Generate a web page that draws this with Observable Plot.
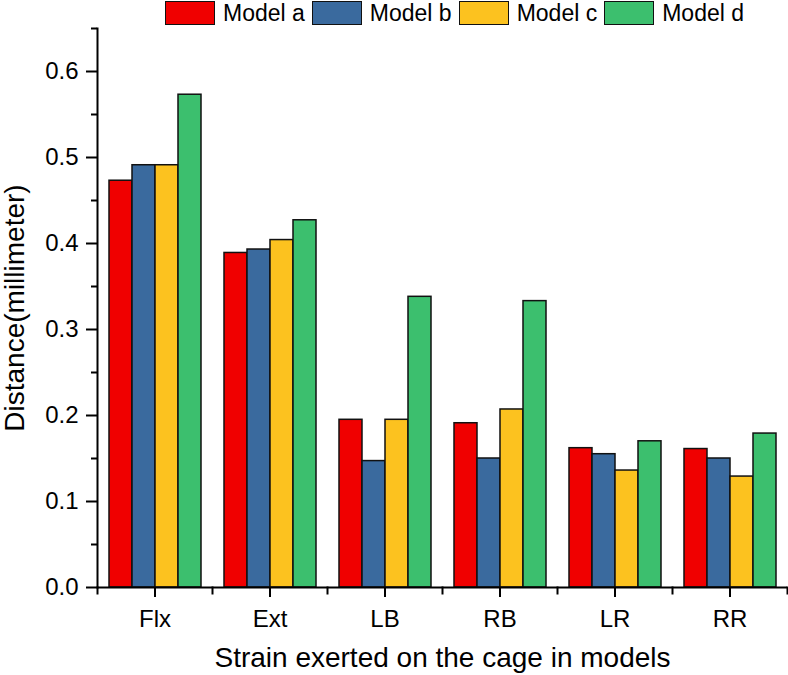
<!DOCTYPE html>
<html><head><meta charset="utf-8">
<script src="https://cdn.jsdelivr.net/npm/d3@7"></script>
<script src="https://cdn.jsdelivr.net/npm/@observablehq/plot@0.6"></script>
<style>
body{margin:0;background:#fff;font-family:"Liberation Sans",Arial,sans-serif;}
#wrap{position:relative;width:788px;height:675px;}
#legend{position:absolute;top:0;left:165px;display:flex;align-items:center;height:26px;font-size:23px;color:#000;z-index:2}
.item{display:flex;align-items:center;margin-right:7px}
.sw{width:48px;height:22px;border:1.5px solid #111;margin-right:8px;box-sizing:content-box}
</style></head><body><div id="wrap"><div id="legend"></div></div>
<script>
const strains = ["Flx","Ext","LB","RB","LR","RR"];
const models = ["Model a","Model b","Model c","Model d"];
const colors = ["#f00000","#3a6a9e","#fcc21f","#3cbf6e"];
const modelA = [0.473, 0.389, 0.195, 0.191, 0.162, 0.161];
const modelB = [0.491, 0.393, 0.147, 0.150, 0.155, 0.150];
const modelC = [0.491, 0.404, 0.195, 0.207, 0.136, 0.129];
const modelD = [0.573, 0.427, 0.338, 0.333, 0.170, 0.179];
const yTicks = [0, 0.1, 0.2, 0.3, 0.4, 0.5, 0.6];
const yMinorTicks = [0.05, 0.15, 0.25, 0.35, 0.45, 0.55, 0.65];

const series = [modelA, modelB, modelC, modelD];
const data = [];
strains.forEach((s, i) => models.forEach((m, j) => data.push({strain: s, model: m, value: series[j][i]})));

const legend = document.getElementById("legend");
models.forEach((m, j) => {
  const it = document.createElement("div"); it.className = "item";
  const sw = document.createElement("div"); sw.className = "sw"; sw.style.background = colors[j];
  const tx = document.createElement("span"); tx.textContent = m;
  it.appendChild(sw); it.appendChild(tx); legend.appendChild(it);
});

const plot = Plot.plot({
  width: 788, height: 675,
  marginLeft: 96, marginRight: 1, marginTop: 28, marginBottom: 88,
  style: {fontFamily: "Liberation Sans, Arial, sans-serif", background: "transparent", color: "#000", overflow: "visible"},
  fx: {domain: strains, padding: 0, label: null},
  x: {domain: models, paddingInner: 0, paddingOuter: 0.5, axis: null},
  y: {domain: [0, 0.65]},
  color: {domain: models, range: colors},
  marks: [
    Plot.barY(data, {fx: "strain", x: "model", y: "value", fill: "model", stroke: "#111", strokeWidth: 1.5}),
    Plot.ruleY([0], {strokeWidth: 2}),
    Plot.frame({anchor: "left", facetAnchor: "left", strokeWidth: 2}),
    Plot.frame({anchor: "left", insetTop: 559, insetBottom: -6, strokeWidth: 2}),
    Plot.frame({anchor: "right", facetAnchor: "right", insetTop: 559, insetBottom: -6, strokeWidth: 2}),
    Plot.axisY(yTicks, {tickSize: 11, tickPadding: 8, tickFormat: d3.format(".1f"), fontSize: 24, strokeWidth: 2, label: null}),
    Plot.axisY(yMinorTicks, {tickSize: 6, tickFormat: () => "", strokeWidth: 2, label: null}),
    Plot.axisY([], {label: "Distance(millimeter)", labelAnchor: "center", labelArrow: "none", labelOffset: 93, fontSize: 28, tickSize: 0}),
    Plot.axisFx({anchor: "bottom", tickSize: 10, tickPadding: 12, fontSize: 24, strokeWidth: 2, label: null}),
    Plot.axisFx({anchor: "bottom", ticks: [], tickSize: 0, label: "Strain exerted on the cage in models", labelAnchor: "center", labelArrow: "none", labelOffset: 79, fontSize: 28})
  ]
});
document.getElementById("wrap").appendChild(plot);
plot.style.position = "absolute"; plot.style.top = "0"; plot.style.left = "0";
</script>
</body></html>
